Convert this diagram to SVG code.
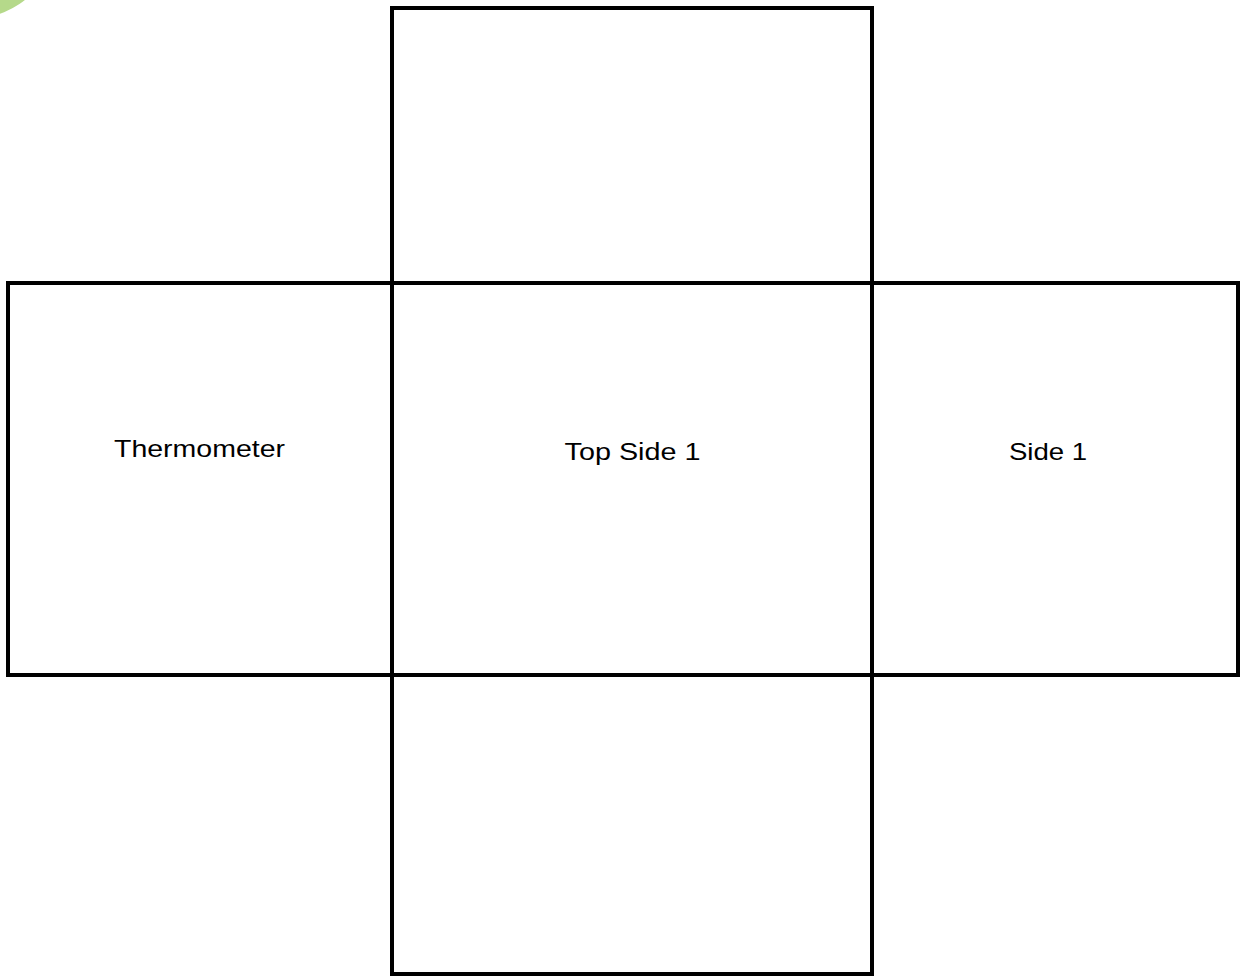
<svg xmlns="http://www.w3.org/2000/svg" width="1241" height="977" viewBox="0 0 1241 977">
<style>
.box{fill:none;stroke:#000;stroke-width:4}
.lbl{font-family:"Liberation Sans",Arial,sans-serif;font-size:23px;fill:#000;text-anchor:middle}
</style>
<rect width="1241" height="977" fill="#fff"/>
<circle cx="-30" cy="-70" r="89" fill="#b5d98a"/>
<g id="top"><rect class="box" x="392" y="8" width="480" height="275"/></g>
<g id="thermometer"><rect class="box" x="8" y="283" width="384" height="392"/>
<text class="lbl" transform="translate(199.5,457) scale(1.24,1)">Thermometer</text></g>
<g id="top-side-1"><rect class="box" x="392" y="283" width="480" height="392"/>
<text class="lbl" transform="translate(632.5,460) scale(1.25,1)">Top Side 1</text></g>
<g id="side-1"><rect class="box" x="872" y="283" width="366" height="392"/>
<text class="lbl" transform="translate(1048,460) scale(1.2,1)">Side 1</text></g>
<g id="bottom"><rect class="box" x="392" y="675" width="480" height="299"/></g>
<g id="connectors"/>
</svg>
